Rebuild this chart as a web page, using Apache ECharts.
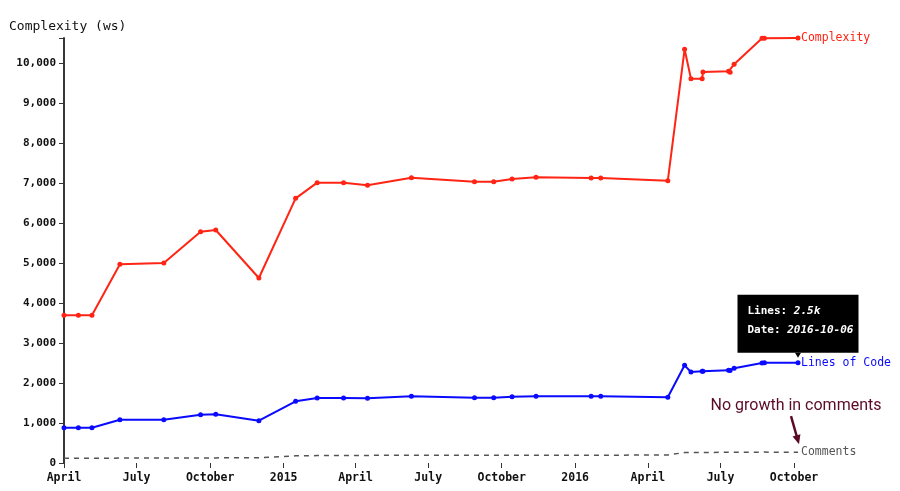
<!DOCTYPE html>
<html>
<head>
<meta charset="utf-8">
<script src="https://cdn.jsdelivr.net/npm/echarts@6/dist/echarts.min.js"></script>
<style>
  html, body { margin: 0; padding: 0; background: #fff; }
  #chart { width: 900px; height: 491px; }
</style>
</head>
<body>
<div id="chart"></div>
<script>
// commit dates
var dates = ['2014-04-01', '2014-04-19', '2014-05-06', '2014-06-10', '2014-08-04', '2014-09-19',
  '2014-10-08', '2014-12-01', '2015-01-16', '2015-02-12', '2015-03-17', '2015-04-16',
  '2015-06-10', '2015-08-28', '2015-09-21', '2015-10-14', '2015-11-13', '2016-01-21',
  '2016-02-02', '2016-04-26', '2016-05-17', '2016-05-25', '2016-06-08', '2016-06-09',
  '2016-07-11', '2016-07-13', '2016-07-18', '2016-08-22', '2016-08-25', '2016-10-06'];

var complexity = [3692, 3692, 3692, 4967, 5000, 5783, 5825, 4625, 6617, 7008, 7008, 6942,
  7133, 7033, 7033, 7100, 7142, 7125, 7125, 7058, 10342, 9608, 9608, 9775,
  9792, 9767, 9967, 10617, 10617, 10625];

var linesOfCode = [883, 883, 883, 1083, 1083, 1208, 1218, 1058, 1543, 1625, 1625, 1618,
  1667, 1633, 1633, 1658, 1667, 1667, 1667, 1642, 2442, 2275, 2292, 2292,
  2317, 2310, 2367, 2500, 2508, 2508];

var comments = [118, 118, 120, 122, 125, 128, 128, 130, 180, 185, 188, 190,
  195, 195, 195, 195, 195, 195, 195, 200, 262, 262, 265, 265,
  266, 266, 268, 272, 272, 270];

// quarter ticks on the x axis
var xTicks = ['2014-04-01', '2014-07-01', '2014-10-01', '2015-01-01', '2015-04-01', '2015-07-01',
  '2015-10-01', '2016-01-01', '2016-04-01', '2016-07-01', '2016-10-01'];
var monthNames = ['January', 'February', 'March', 'April', 'May', 'June', 'July',
  'August', 'September', 'October', 'November', 'December'];

var mono = 'DejaVu Sans Mono';

function toTime(s) {
  var p = s.split('-');
  return new Date(+p[0], +p[1] - 1, +p[2]).getTime();
}
function pairs(vals) {
  return dates.map(function (d, i) { return [toTime(d), vals[i]]; });
}

var chart = echarts.init(document.getElementById('chart'));

chart.setOption({
  animation: false,
  title: {
    text: 'Complexity (ws)',
    left: 4, top: 15,
    textStyle: { fontFamily: mono, fontSize: 13, fontWeight: 'normal', color: '#111' }
  },
  grid: { left: 64, right: 102, top: 38, bottom: 28, outerBoundsMode: 'none' },
  xAxis: {
    type: 'value',
    min: toTime(dates[0]),
    max: toTime(dates[dates.length - 1]),
    axisLine: { show: false },
    splitLine: { show: false },
    axisTick: {
      show: true, length: 5,
      customValues: xTicks.map(toTime),
      lineStyle: { color: '#333', width: 1 }
    },
    axisLabel: {
      customValues: xTicks.map(toTime),
      margin: 9,
      fontFamily: mono, fontSize: 11.5, fontWeight: 'bold', color: '#111',
      formatter: function (v) {
        var d = new Date(v);
        return d.getMonth() === 0 ? String(d.getFullYear()) : monthNames[d.getMonth()];
      }
    }
  },
  yAxis: {
    type: 'value',
    min: 0,
    max: function (v) { return v.max; },
    interval: 1000,
    splitLine: { show: false },
    axisLine: { show: true, lineStyle: { color: '#222', width: 1.8 } },
    axisTick: { show: true, length: 5, lineStyle: { color: '#333', width: 1 } },
    axisLabel: {
      margin: 8,
      fontFamily: mono, fontSize: 11, fontWeight: 'bold', color: '#111',
      formatter: function (v) {
        if (v % 1000 !== 0) return '';
        return v.toLocaleString('en-US');
      }
    }
  },
  series: [
    {
      name: 'Complexity',
      type: 'line',
      data: pairs(complexity),
      symbol: 'circle', symbolSize: 5,
      itemStyle: { color: '#ff2414' },
      lineStyle: { color: '#ff2414', width: 2 },
      endLabel: { show: true, formatter: 'Complexity', color: '#ff2414', fontFamily: mono, fontSize: 11.5, distance: 3 }
    },
    {
      name: 'Lines of Code',
      type: 'line',
      data: pairs(linesOfCode),
      symbol: 'circle', symbolSize: 5,
      itemStyle: { color: '#0a0aff' },
      lineStyle: { color: '#0a0aff', width: 2 },
      endLabel: { show: true, formatter: 'Lines of Code', color: '#0a0aff', fontFamily: mono, fontSize: 11.5, distance: 3 }
    },
    {
      name: 'Comments',
      type: 'line',
      data: pairs(comments),
      symbol: 'none',
      lineStyle: { color: '#555', width: 1.5, type: [5, 5] },
      endLabel: { show: true, formatter: 'Comments', color: '#555', fontFamily: mono, fontSize: 11.5, distance: 3 }
    }
  ]
});

// static tooltip on the last Lines of Code point and the comments annotation
var last = dates.length - 1;
var pLoc = chart.convertToPixel({ gridIndex: 0 }, [toTime(dates[last]), linesOfCode[last]]);
var pCom = chart.convertToPixel({ gridIndex: 0 }, [toTime(dates[last]), comments[last]]);

var tipW = 121, tipH = 58;
var tipX = pLoc[0] - tipW / 2, tipY = pLoc[1] - 10 - tipH;

var arrowFrom = [pCom[0] - 7, pCom[1] - 36];
var arrowTo = [pCom[0] + 1, pCom[1] - 8];
var ang = Math.atan2(arrowTo[1] - arrowFrom[1], arrowTo[0] - arrowFrom[0]);
function headPt(off, len) {
  return [arrowTo[0] - len * Math.cos(ang + off), arrowTo[1] - len * Math.sin(ang + off)];
}

var tipRich = {
  b: { fill: '#fff', fontFamily: mono, fontSize: 11, fontWeight: 'bold' },
  i: { fill: '#fff', fontFamily: mono, fontSize: 11, fontWeight: 'bold', fontStyle: 'italic' }
};

chart.setOption({
  graphic: [
    {
      type: 'rect',
      shape: { x: tipX, y: tipY, width: tipW, height: tipH },
      style: { fill: '#000' },
      z: 100
    },
    {
      type: 'polygon',
      shape: { points: [[pLoc[0] - 3, tipY + tipH], [pLoc[0] + 3, tipY + tipH], [pLoc[0], tipY + tipH + 5]] },
      style: { fill: '#000' },
      z: 100
    },
    {
      type: 'text',
      x: tipX + 10, y: tipY + 16,
      z: 101,
      style: {
        text: '{b|Lines: }{i|' + (linesOfCode[last] / 1000).toFixed(1) + 'k}',
        verticalAlign: 'middle',
        rich: tipRich
      }
    },
    {
      type: 'text',
      x: tipX + 10, y: tipY + 35,
      z: 101,
      style: {
        text: '{b|Date: }{i|' + dates[last] + '}',
        verticalAlign: 'middle',
        rich: tipRich
      }
    },
    {
      type: 'text',
      x: pCom[0] - 2, y: pCom[1] - 46,
      z: 101,
      style: {
        text: 'No growth in comments',
        fill: '#5c0b26',
        font: '16px Roboto',
        align: 'center',
        verticalAlign: 'middle'
      }
    },
    {
      type: 'line',
      shape: { x1: arrowFrom[0], y1: arrowFrom[1], x2: headPt(0, 8)[0], y2: headPt(0, 8)[1] },
      style: { stroke: '#5c0b26', lineWidth: 2.5 },
      z: 101
    },
    {
      type: 'polygon',
      shape: { points: [arrowTo, headPt(0.42, 10), headPt(-0.42, 10)] },
      style: { fill: '#5c0b26' },
      z: 101
    }
  ]
});
</script>
</body>
</html>
